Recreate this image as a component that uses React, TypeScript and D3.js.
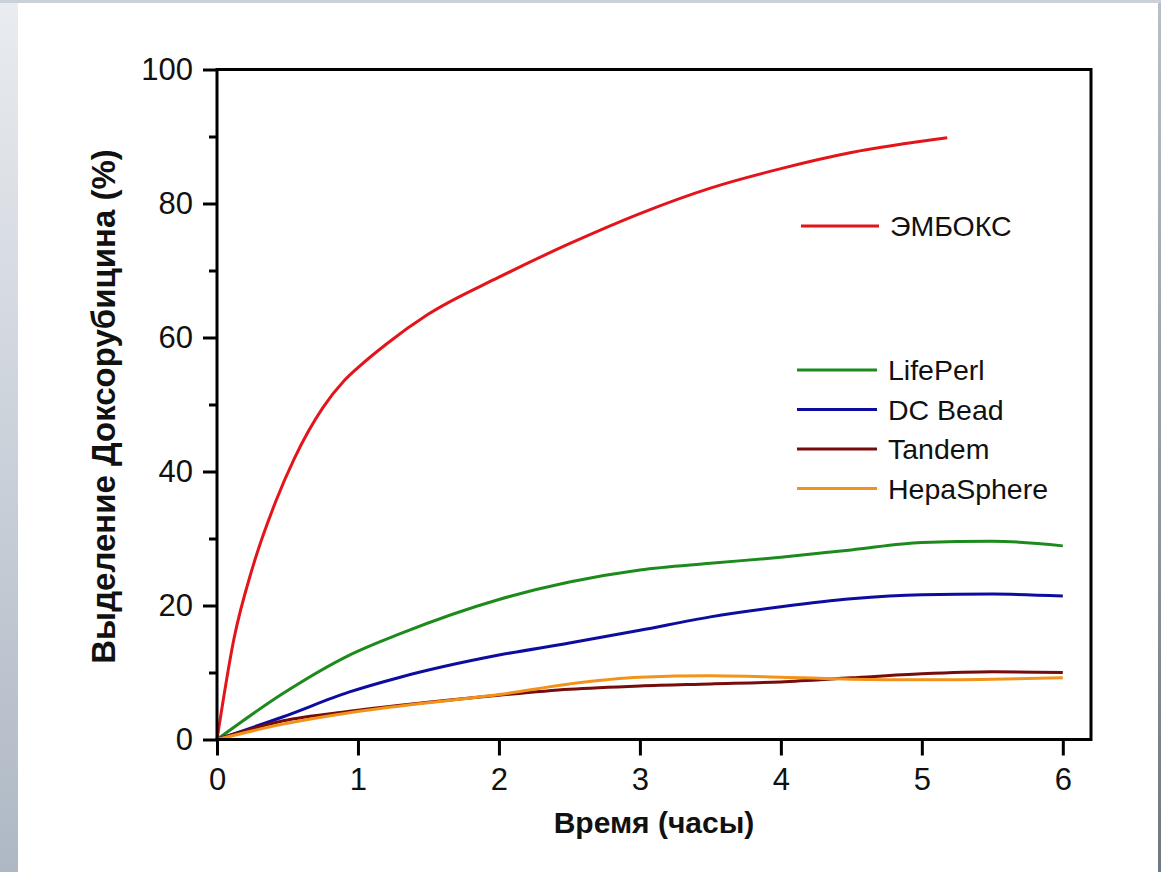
import React, { useEffect, useRef } from 'react';
import * as d3 from 'd3';

const W = 1161;
const H = 872;
const margin = { top: 69.5, right: 70, bottom: 132.5, left: 217 };
const plotW = W - margin.left - margin.right;
const plotH = H - margin.top - margin.bottom;

// hours / percent
const emboxT = [0, 0.12, 0.25, 0.42, 0.55, 0.75, 0.9, 1.0, 1.2, 1.5, 2, 2.5, 3, 3.5, 4, 4.5, 5.18];
const emboxV = [0, 15, 25.5, 35.7, 42, 49.5, 53.5, 55.5, 59, 63.5, 69, 74, 78.5, 82.3, 85.2, 87.6, 89.8];

const seriesT = [0, 0.47, 0.94, 1.3, 2, 2.5, 3, 3.5, 4, 4.5, 5, 5.5, 6];
const lifePerlV = [0, 6.9, 12.6, 15.8, 20.9, 23.5, 25.3, 26.3, 27.2, 28.3, 29.4, 29.6, 28.9];
const dcBeadV = [0, 3.4, 7.1, 9.3, 12.6, 14.4, 16.3, 18.3, 19.8, 21, 21.6, 21.7, 21.4];
const tandemV = [0, 2.8, 4.2, 5.1, 6.6, 7.5, 8.0, 8.3, 8.6, 9.2, 9.8, 10.1, 10.0];
const hepaV = [0, 2.3, 4.0, 5.0, 6.7, 8.3, 9.3, 9.5, 9.3, 9.0, 8.9, 9.0, 9.2];

const xTicks = [0, 1, 2, 3, 4, 5, 6];
const yTicks = [0, 20, 40, 60, 80, 100];
const yMinor = [10, 30, 50, 70, 90];

const series = [
  { name: 'ЭМБОКС', t: emboxT, v: emboxV, color: '#e3151a' },
  { name: 'LifePerl', t: seriesT, v: lifePerlV, color: '#1c8a1c' },
  { name: 'DC Bead', t: seriesT, v: dcBeadV, color: '#0c0c9e' },
  { name: 'Tandem', t: seriesT, v: tandemV, color: '#760c0c' },
  { name: 'HepaSphere', t: seriesT, v: hepaV, color: '#f39219' },
];

const legendY = [226, 370, 409.5, 449, 488.5];

const font = '"Liberation Sans", Arial, sans-serif';

const App = () => {
  const xAxisRef = useRef<SVGGElement>(null);
  const yAxisRef = useRef<SVGGElement>(null);
  const yMinorRef = useRef<SVGGElement>(null);

  const x = d3.scaleLinear().domain([0, 6.2]).range([0, plotW]);
  const y = d3.scaleLinear().domain([0, 100]).range([plotH, 0]);

  const line = d3.line<[number, number]>()
    .x(d => x(d[0]))
    .y(d => y(d[1]))
    .curve(d3.curveMonotoneX);

  useEffect(() => {
    const style = (g: d3.Selection<SVGGElement, unknown, null, undefined>) => {
      g.select('.domain').remove();
      g.selectAll('line').attr('stroke', '#000').attr('stroke-width', 3);
      g.selectAll('text').attr('fill', '#111').style('font-family', font).style('font-size', '31px');
    };
    const gx = d3.select(xAxisRef.current!);
    gx.call(d3.axisBottom(x).tickValues(xTicks).tickFormat(d3.format('d')).tickSize(16).tickPadding(12));
    style(gx);
    const gy = d3.select(yAxisRef.current!);
    gy.call(d3.axisLeft(y).tickValues(yTicks).tickFormat(d3.format('d')).tickSize(14).tickPadding(10));
    style(gy);
    const gm = d3.select(yMinorRef.current!);
    gm.call(d3.axisLeft(y).tickValues(yMinor).tickFormat(() => '').tickSize(8));
    style(gm);
  }, []);

  return (
    <svg width={W} height={H} style={{ position: 'absolute', left: 0, top: 0 }}>
      <defs>
        <linearGradient id="frame" x1="0" y1="0" x2="0" y2="1">
          <stop offset="0" stopColor="#e9ecf0" />
          <stop offset="1" stopColor="#aeb8c4" />
        </linearGradient>
        <linearGradient id="rightEdge" x1="0" y1="0" x2="0" y2="1">
          <stop offset="0" stopColor="#b9bfc7" />
          <stop offset="1" stopColor="#6f7780" />
        </linearGradient>
      </defs>
      <rect x={0} y={0} width={W} height={H} fill="url(#frame)" />
      <rect x={1158} y={0} width={3} height={H} fill="url(#rightEdge)" />
      <rect x={0} y={0} width={W} height={3} fill="#cbd1d8" />
      <rect x={18} y={3} width={1140} height={H - 3} fill="#fff" />

      <g transform={`translate(${margin.left},${margin.top})`}>
        {series.map(s => (
          <path
            key={s.name}
            d={line(s.t.map((t, i) => [t, s.v[i]] as [number, number])) || ''}
            fill="none"
            stroke={s.color}
            strokeWidth={3}
            strokeLinejoin="round"
          />
        ))}
        <rect x={0} y={0} width={plotW} height={plotH} fill="none" stroke="#000" strokeWidth={3} />
        <g ref={xAxisRef} transform={`translate(0,${plotH})`} />
        <g ref={yAxisRef} />
        <g ref={yMinorRef} />
      </g>

      {series.map((s, i) => (
        <g key={s.name}>
          <line x1={i === 0 ? 801 : 797} x2={i === 0 ? 879 : 877} y1={legendY[i]} y2={legendY[i]} stroke={s.color} strokeWidth={3} />
          <text x={i === 0 ? 890 : 888} y={legendY[i]} dy="0.36em" fontFamily={font} fontSize={28.5} fill="#111">
            {s.name}
          </text>
        </g>
      ))}

      <text x={margin.left + plotW / 2} y={833} textAnchor="middle" fontFamily={font} fontSize={30} fontWeight="bold" fill="#111">
        Время (часы)
      </text>
      <text
        transform={`translate(115,${margin.top + plotH / 2 + 2}) rotate(-90)`}
        textAnchor="middle"
        fontFamily={font}
        fontSize={33}
        fontWeight="bold"
        fill="#111"
      >
        Выделение Доксорубицина (%)
      </text>
    </svg>
  );
};

export default App;
